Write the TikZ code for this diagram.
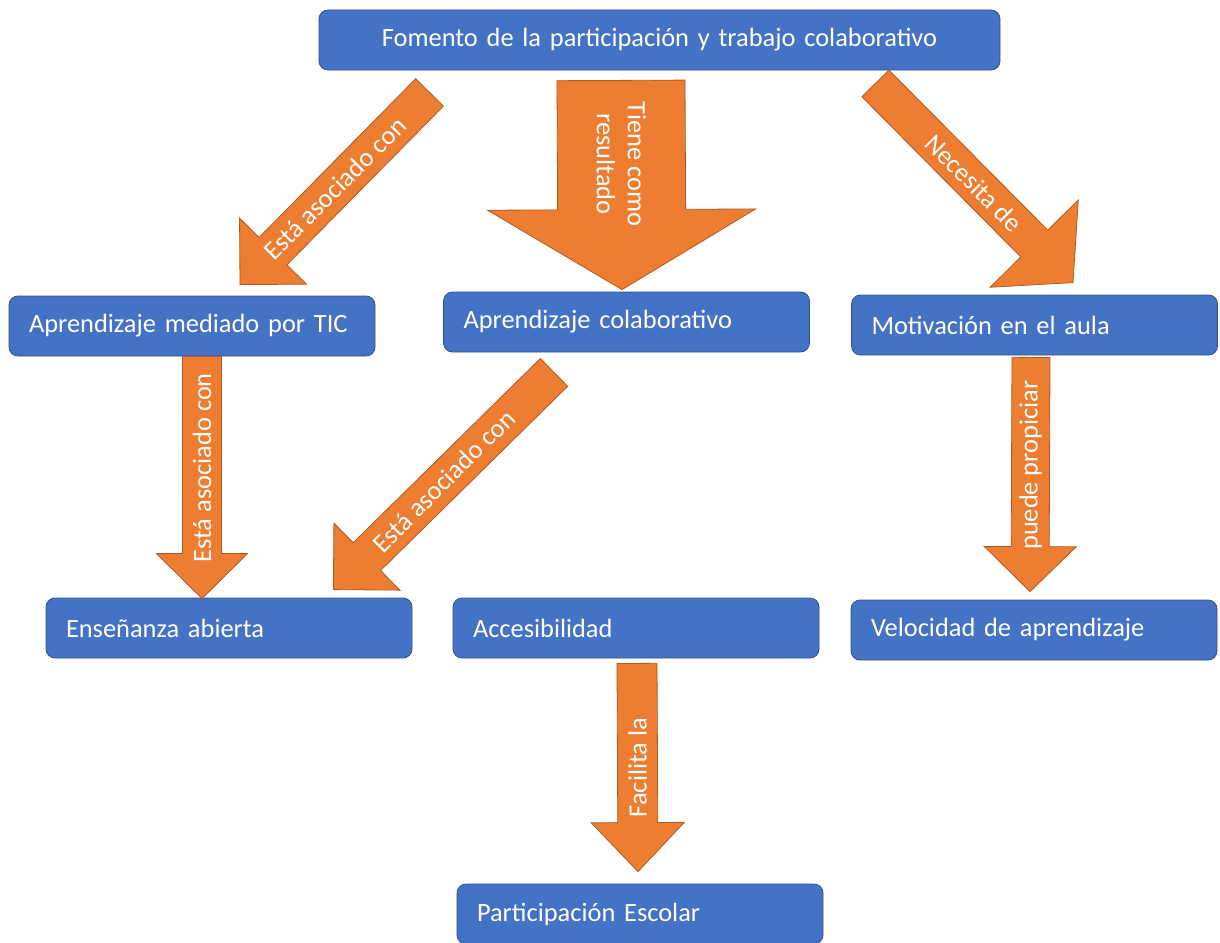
\documentclass[tikz,border=0pt]{standalone}
\usepackage{fontspec}
\setmainfont{Carlito}
\usetikzlibrary{calc}

\definecolor{boxblue}{HTML}{4472C4}
\definecolor{boxedge}{HTML}{2F528F}
\definecolor{arrorange}{HTML}{ED7D31}
\definecolor{arredge}{HTML}{AE5A21}

\begin{document}
\begin{tikzpicture}[x=1pt, y=-1pt,
   box/.style={rectangle, rounded corners=9pt, fill=boxblue, draw=boxedge,
     line width=0.8pt, text=white, font=\fontsize{26.4}{31}\selectfont,
     minimum height=60pt, text width=326pt, inner xsep=20pt, inner ysep=0pt,
     align=left},
   blk/.style={fill=arrorange, draw=arredge, line width=0.8pt},
   lbl/.style={text=white, font=\fontsize{26.4}{31}\selectfont, inner sep=0pt,
     align=center}]
  \useasboundingbox (0,0) rectangle (1220,942);

  \node[box, text width=641pt, align=center] (fom) at (659.5,40)
     {Fomento de la participación y trabajo colaborativo};
  \node[box] (tic) at (192,326)    {Aprendizaje mediado por TIC};
  \node[box] (col) at (626.5,322)  {Aprendizaje colaborativo};
  \node[box] (mot) at (1034.5,325) {Motivación en el aula};
  \node[box] (ens) at (229,628)    {Enseñanza abierta};
  \node[box] (acc) at (636,628)    {Accesibilidad};
  \node[box] (vel) at (1034,630)   {Velocidad de aprendizaje};
  \node[box] (par) at (640,914)    {Participación Escolar};

  % tails and tips of the block arrows
  \coordinate (a1s) at ($(fom.south west)+(111,22)$);
  \coordinate (a1e) at ($(tic.north)+(48,-11)$);
  \coordinate (a2s) at ($(fom.south)+(-38.5,10)$);
  \coordinate (a2e) at ($(col.north)+(-4.5,-2)$);
  \coordinate (a3s) at ($(fom.south east)+(-125,13)$);
  \coordinate (a3e) at ($(mot.north)+(38.5,-12)$);
  \coordinate (a4s) at ($(col.south)+(-72.5,20)$);
  \coordinate (a4e) at ($(ens.north east)+(-79,-8)$);
  \coordinate (a5s) at ($(tic.south)+(10,0)$);
  \coordinate (a5e) at ($(ens.north)+(-27,1)$);
  \coordinate (a6s) at ($(acc.south)+(1,5)$);
  \coordinate (a6e) at ($(par.north)+(-2,-12)$);
  \coordinate (a7s) at ($(mot.south)+(-3.5,2)$);
  \coordinate (a7e) at ($(vel.north)+(-4,-8)$);

  % tail/tip/shaft half/head half/head length/label pos/label angle/label
  \foreach \s/\t/\w/\h/\l/\p/\r/\txt [count=\i] in {
      a1s/a1e/19.5pt/47pt/47pt/0.5/45/{Está asociado con},
      a2s/a2e/64pt/134pt/80pt/0.4/-90/{Tiene como\\resultado},
      a3s/a3e/19pt/62pt/55pt/0.5/-45/{Necesita de},
      a4s/a4e/19.5pt/47pt/47pt/0.5/45/{Está asociado con},
      a5s/a5e/19.5pt/45.5pt/45pt/0.46/90/{Está asociado con},
      a6s/a6e/20pt/46.5pt/49pt/0.5/90/{Facilita la},
      a7s/a7e/19pt/46pt/45pt/0.46/90/{puede propiciar}} {
    \coordinate (hb) at ($(\t)!\l!(\s)$);
    \filldraw[blk] ($(\s)!\w!90:(\t)$) -- ($(hb)!\w!90:(\t)$)
      -- ($(hb)!\h!90:(\t)$) -- (\t) -- ($(hb)!\h!-90:(\t)$)
      -- ($(hb)!\w!-90:(\t)$) -- ($(\s)!\w!-90:(\t)$) -- cycle;
    \node[lbl, rotate=\r] (lab\i) at ($(\s)!\p!(\t)$) {\txt};
  }
\end{tikzpicture}
\end{document}
